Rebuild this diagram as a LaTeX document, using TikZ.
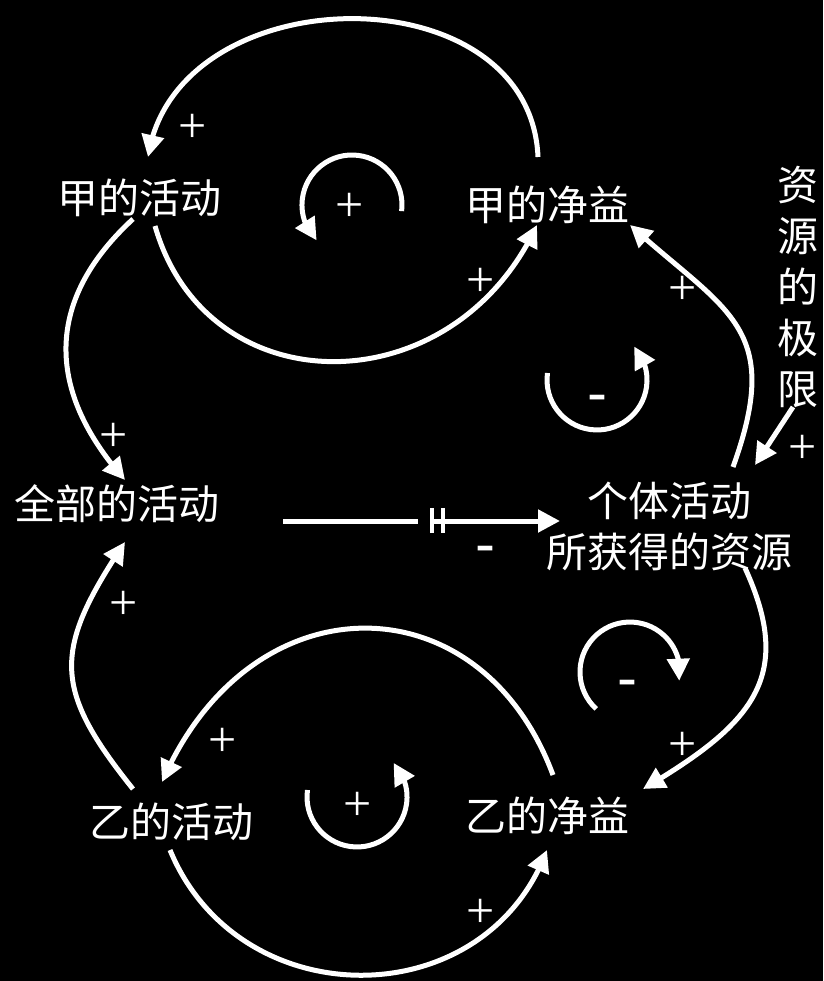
\documentclass[tikz,border=0pt]{standalone}
\usepackage{fontspec}
\newfontfamily\cjk{Noto Sans CJK SC}
\newfontfamily\dashfont{Liberation Sans}
\newfontfamily\plusfont{Liberation Serif}
\usetikzlibrary{arrows.meta,bending}
\begin{document}
\begin{tikzpicture}[x=1pt,y=-1pt,
  lab/.style={font=\cjk\fontsize{41}{51}\selectfont, text=white, inner sep=0pt, align=center},
  pl/.style={font=\plusfont\fontsize{50}{50}\selectfont, text=white, inner sep=0pt},
  mi/.style={font=\dashfont\fontsize{60}{60}\selectfont, text=white, inner sep=0pt, anchor=base},
  link/.style={draw=white, line width=5pt, -{Triangle[length=22pt,width=22pt,flex]}},
  plain/.style={draw=white, line width=5pt},
  delay/.style={draw=white, line width=3.5pt},
]
\fill[black] (0,0) rectangle (823,981);
\useasboundingbox (0,0) rectangle (823,981);

% variables
\node[lab] (jiaA) at (139,198) {甲的活动};
\node[lab] (jiaN) at (547,205) {甲的净益};
\node[lab] (all)  at (117,504) {全部的活动};
\node[lab] (res)  at (669,526) {个体活动\\所获得的资源};
\node[lab] (lim)  at (798,287) {资\\源\\的\\极\\限};
\node[lab] (yiA)  at (171,822) {乙的活动};
\node[lab] (yiN)  at (547,816) {乙的净益};

% connector end points
\coordinate (jiaNtop) at (538,157);
\coordinate (jiaAtop) at (148,157);
\coordinate (jiaAbot) at (155,226);
\coordinate (jiaNbot) at (537,225);
\coordinate (jiaAleft) at (133,219);
\coordinate (allTop) at (125,480);
\coordinate (yiAleft) at (133,789);
\coordinate (allBot) at (125,542);
\coordinate (yiNtop) at (553,775);
\coordinate (yiAtop) at (162,782);
\coordinate (yiAbot) at (170,850);
\coordinate (yiNbot) at (547,850);
\coordinate (resTop) at (733,467);
\coordinate (jiaNright) at (630,225);
\coordinate (limBot) at (793,407);
\coordinate (resTopR) at (755,465);
\coordinate (resBot) at (745,568);
\coordinate (yiNright) at (643,789);
\coordinate (hStart) at (283,521);
\coordinate (hGap) at (418,521);
\coordinate (hMark) at (432,521);
\coordinate (resLeft) at (560,521);

% top loop
\draw[link] (jiaNtop) .. controls (530,-30) and (175,-25) .. (jiaAtop);
\draw[link] (jiaAbot) .. controls (207,407) and (453,407) .. (jiaNbot);
% to total activity
\draw[link] (jiaAleft) .. controls (45,300) and (45,390) .. (allTop);
\draw[link] (yiAleft) .. controls (52,688) and (53,650) .. (allBot);
% bottom loop
\draw[link] (yiNtop) .. controls (480,578) and (250,578) .. (yiAtop);
\draw[link] (yiAbot) .. controls (239,1017) and (485,1017) .. (yiNbot);
% resources
\draw[link] (resTop) .. controls (784,326) and (726,312) .. (jiaNright);
\draw[link] (limBot) -- (resTopR);
\draw[link] (resBot) .. controls (795,677) and (753,724) .. (yiNright);
% delayed link
\draw[plain] (hStart) -- (hGap);
\draw[link] (hMark) -- (resLeft);
\draw[delay] (432,508) -- (432,533);
\draw[delay] (443,508) -- (443,533);

% loop markers
\draw[link] (401.6,211.1) arc[start angle=7,end angle=-225,radius=50];
\draw[link] (547.5,373) arc[start angle=188,end angle=-42,radius=50];
\draw[link] (307.5,790) arc[start angle=188,end angle=-43,radius=50];
\draw[link] (596.2,708.9) arc[start angle=132.5,end angle=370,radius=50];

% polarities
\node[pl] (p1) at (193,128) {+};
\node[pl] (p2) at (350,207) {+};
\node[pl] (p3) at (481,282) {+};
\node[pl] (p4) at (683,290) {+};
\node[pl] (p5) at (803,449) {+};
\node[pl] (p6) at (114,437) {+};
\node[pl] (p7) at (124,605) {+};
\node[pl] (p8) at (223,742) {+};
\node[pl] (p9) at (358,806) {+};
\node[pl] (p10) at (683,746) {+};
\node[pl] (p11) at (481,913) {+};
\node[mi] (m1) at (597,413) {-};
\node[mi] (m2) at (485,564) {-};
\node[mi] (m3) at (627,698) {-};
\end{tikzpicture}
\end{document}
